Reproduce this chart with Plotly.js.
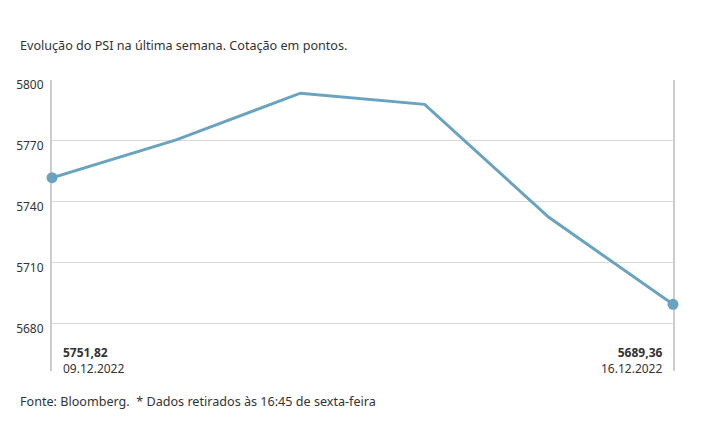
<!DOCTYPE html>
<html>
<head>
<meta charset="utf-8">
<script src="https://cdn.plot.ly/plotly-3.0.1.min.js"></script>
<style>html,body{margin:0;padding:0;background:#fff;}#chart{width:715px;height:445px;}</style>
</head>
<body>
<div id="chart"></div>
<script>
const days = ["09.12.2022", "12.12.2022", "13.12.2022", "14.12.2022", "15.12.2022", "16.12.2022"];
const psi = [5751.82, 5770.5, 5793.5, 5788.0, 5732.3, 5689.36];
const yTicks = [5680, 5710, 5740, 5770, 5800];
const titleText = "Evolução do PSI na última semana. Cotação em pontos.";
const footerText = "Fonte: Bloomberg.&nbsp; * Dados retirados às 16:45 de sexta-feira";

const fmt = v => v.toFixed(2).replace(".", ",");
const xIdx = days.map((d, i) => i);
const last = psi.length - 1;

const font = "Noto Sans, sans-serif";
const lineTrace = {
  x: xIdx, y: psi, type: "scatter", mode: "lines",
  line: {color: "#6aa3bf", width: 3},
  cliponaxis: false, hoverinfo: "skip"
};
const endTrace = {
  x: [xIdx[0], xIdx[last]], y: [psi[0], psi[last]], type: "scatter", mode: "markers",
  marker: {color: "#6aa3bf", size: 11, opacity: 1, line: {width: 0}},
  cliponaxis: false, hoverinfo: "skip"
};
const layout = {
  width: 715, height: 445,
  margin: {l: 52, r: 42, t: 80, b: 74},
  paper_bgcolor: "#fff", plot_bgcolor: "#fff",
  showlegend: false,
  font: {family: font, color: "#333", size: 12},
  xaxis: {range: [0, last], showgrid: false, zeroline: false, showticklabels: false, ticks: "", showline: false, fixedrange: true},
  yaxis: {range: [5656.5, 5800], tickvals: yTicks, ticktext: yTicks.map(String),
    showgrid: true, gridcolor: "#d9d9d9", gridwidth: 1, zeroline: false,
    showline: true, linecolor: "#cccccc", linewidth: 2, mirror: true, layer: "below traces",
    ticks: "", ticklabelstandoff: 4, ticklabelshift: 5,
    tickfont: {family: font, size: 12, color: "#333"}},
  annotations: [
    {xref: "paper", yref: "paper", x: -52/621 + 18/621, y: 1 + 34/291, xanchor: "left", yanchor: "middle",
      text: titleText, showarrow: false, font: {family: font, size: 12.6, color: "#333"}},
    {xref: "paper", yref: "paper", x: -52/621 + 18/621, y: -30/291, xanchor: "left", yanchor: "middle",
      text: footerText, showarrow: false, font: {family: font, size: 12.6, color: "#333"}},
    {xref: "x", yref: "paper", x: 0, xshift: 9, y: 11/291, xanchor: "left", yanchor: "middle", align: "left",
      text: "<b>" + fmt(psi[0]) + "</b><br>" + days[0], showarrow: false, font: {family: font, size: 12, color: "#333"}},
    {xref: "x", yref: "paper", x: last, xshift: -9, y: 11/291, xanchor: "right", yanchor: "middle", align: "right",
      text: "<b>" + fmt(psi[last]) + "</b><br>" + days[last], showarrow: false, font: {family: font, size: 12, color: "#333"}}
  ]
};
Plotly.newPlot("chart", [lineTrace, endTrace], layout, {displayModeBar: false, staticPlot: true});
</script>
</body>
</html>
